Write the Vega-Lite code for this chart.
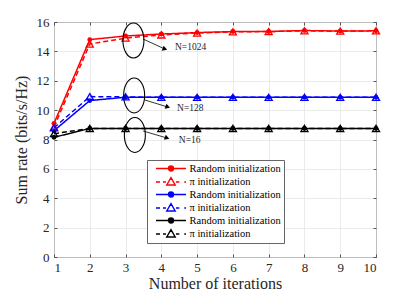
{
  "$schema": "https://vega.github.io/schema/vega-lite/v6.json",
  "width": 322,
  "height": 235,
  "autosize": {"type": "none"},
  "padding": {"left": 54, "top": 22, "right": 39, "bottom": 34},
  "background": "white",
  "datasets": {
    "rates": [
      {"it": 1, "v": 9.1, "s": "R1024"}, {"it": 2, "v": 14.8, "s": "R1024"}, {"it": 3, "v": 15.05, "s": "R1024"}, {"it": 4, "v": 15.18, "s": "R1024"}, {"it": 5, "v": 15.28, "s": "R1024"}, {"it": 6, "v": 15.35, "s": "R1024"}, {"it": 7, "v": 15.35, "s": "R1024"}, {"it": 8, "v": 15.42, "s": "R1024"}, {"it": 9, "v": 15.38, "s": "R1024"}, {"it": 10, "v": 15.4, "s": "R1024"},
      {"it": 1, "v": 8.85, "s": "P1024"}, {"it": 2, "v": 14.5, "s": "P1024"}, {"it": 3, "v": 14.9, "s": "P1024"}, {"it": 4, "v": 15.12, "s": "P1024"}, {"it": 5, "v": 15.25, "s": "P1024"}, {"it": 6, "v": 15.33, "s": "P1024"}, {"it": 7, "v": 15.35, "s": "P1024"}, {"it": 8, "v": 15.4, "s": "P1024"}, {"it": 9, "v": 15.38, "s": "P1024"}, {"it": 10, "v": 15.4, "s": "P1024"},
      {"it": 1, "v": 8.6, "s": "R128"}, {"it": 2, "v": 10.65, "s": "R128"}, {"it": 3, "v": 10.88, "s": "R128"}, {"it": 4, "v": 10.87, "s": "R128"}, {"it": 5, "v": 10.87, "s": "R128"}, {"it": 6, "v": 10.87, "s": "R128"}, {"it": 7, "v": 10.87, "s": "R128"}, {"it": 8, "v": 10.87, "s": "R128"}, {"it": 9, "v": 10.87, "s": "R128"}, {"it": 10, "v": 10.87, "s": "R128"},
      {"it": 1, "v": 8.8, "s": "P128"}, {"it": 2, "v": 10.92, "s": "P128"}, {"it": 3, "v": 10.9, "s": "P128"}, {"it": 4, "v": 10.87, "s": "P128"}, {"it": 5, "v": 10.87, "s": "P128"}, {"it": 6, "v": 10.87, "s": "P128"}, {"it": 7, "v": 10.87, "s": "P128"}, {"it": 8, "v": 10.87, "s": "P128"}, {"it": 9, "v": 10.87, "s": "P128"}, {"it": 10, "v": 10.87, "s": "P128"},
      {"it": 1, "v": 8.15, "s": "R16"}, {"it": 2, "v": 8.75, "s": "R16"}, {"it": 3, "v": 8.75, "s": "R16"}, {"it": 4, "v": 8.75, "s": "R16"}, {"it": 5, "v": 8.75, "s": "R16"}, {"it": 6, "v": 8.75, "s": "R16"}, {"it": 7, "v": 8.75, "s": "R16"}, {"it": 8, "v": 8.75, "s": "R16"}, {"it": 9, "v": 8.75, "s": "R16"}, {"it": 10, "v": 8.75, "s": "R16"},
      {"it": 1, "v": 8.4, "s": "P16"}, {"it": 2, "v": 8.75, "s": "P16"}, {"it": 3, "v": 8.75, "s": "P16"}, {"it": 4, "v": 8.75, "s": "P16"}, {"it": 5, "v": 8.75, "s": "P16"}, {"it": 6, "v": 8.75, "s": "P16"}, {"it": 7, "v": 8.75, "s": "P16"}, {"it": 8, "v": 8.75, "s": "P16"}, {"it": 9, "v": 8.75, "s": "P16"}, {"it": 10, "v": 8.75, "s": "P16"}
    ],
    "ellipses": [{"x": 3.22, "y": 14.74}, {"x": 3.24, "y": 11.0}, {"x": 3.26, "y": 8.31}],
    "arrows": [
      {"x1": 3.49, "y1": 14.84, "x2": 4.1, "y2": 14.16},
      {"x1": 3.54, "y1": 10.69, "x2": 4.18, "y2": 10.21},
      {"x1": 3.49, "y1": 8.58, "x2": 4.16, "y2": 8.1}
    ],
    "labels": [
      {"x": 4.38, "y": 14.3, "t": "N=1024"},
      {"x": 4.44, "y": 10.15, "t": "N=128"},
      {"x": 4.49, "y": 7.97, "t": "N=16"}
    ]
  },
  "resolve": {"axis": {"x": "independent", "y": "independent"}},
  "layer": [
    {
      "data": {"name": "rates"},
      "mark": {"type": "line", "strokeWidth": 1.5},
      "encoding": {
        "x": {"field": "it", "type": "quantitative", "scale": {"domain": [1, 10], "nice": false},
              "axis": {"orient": "bottom", "title": "Number of iterations", "values": [1,2,3,4,5,6,7,8,9,10], "ticks": false, "labelPadding": 4, "titlePadding": 1, "labelAngle": 0}},
        "y": {"field": "v", "type": "quantitative", "scale": {"domain": [0, 16], "nice": false},
              "axis": {"orient": "left", "title": "Sum rate (bits/s/Hz)", "values": [0,2,4,6,8,10,12,14,16], "ticks": false, "labelPadding": 5, "titlePadding": 7}},
        "color": {"field": "s", "type": "nominal", "legend": null,
                  "scale": {"domain": ["R1024","R128","R16","P1024","P128","P16"], "range": ["#ff0000","#0000ff","#000000","#ff0000","#0000ff","#000000"]}},
        "strokeDash": {"field": "s", "type": "nominal", "legend": null,
                  "scale": {"domain": ["P1024","P128","P16","R1024","R128","R16"], "range": [[5,3],[5,3],[5,3],[1,0],[1,0],[1,0]]}}
      }
    },
    {
      "data": {"name": "rates"},
      "transform": [{"filter": "indexof(datum.s, 'R') == 0"}],
      "mark": {"type": "point", "shape": "circle", "filled": true, "size": 24, "opacity": 1},
      "encoding": {
        "x": {"field": "it", "type": "quantitative", "axis": {"orient": "bottom", "offset": -3, "labels": false, "grid": false, "domain": false, "title": null, "tickSize": 3, "tickColor": "#555555", "values": [1,2,3,4,5,6,7,8,9,10]}},
        "y": {"field": "v", "type": "quantitative", "axis": {"orient": "left", "offset": -3, "labels": false, "grid": false, "domain": false, "title": null, "tickSize": 3, "tickColor": "#555555", "values": [0,2,4,6,8,10,12,14,16]}},
        "color": {"field": "s", "type": "nominal", "legend": null}
      }
    },
    {
      "data": {"name": "rates"},
      "transform": [{"filter": "indexof(datum.s, 'P') == 0"}],
      "mark": {"type": "point", "shape": "triangle-up", "filled": false, "size": 50, "strokeWidth": 1.3, "opacity": 1},
      "encoding": {
        "x": {"field": "it", "type": "quantitative", "axis": {"orient": "top", "offset": -3, "labels": false, "grid": false, "domain": false, "title": null, "tickSize": 3, "tickColor": "#555555", "values": [1,2,3,4,5,6,7,8,9,10]}},
        "y": {"field": "v", "type": "quantitative", "axis": {"orient": "right", "offset": -3, "labels": false, "grid": false, "domain": false, "title": null, "tickSize": 3, "tickColor": "#555555", "values": [0,2,4,6,8,10,12,14,16]}},
        "color": {"field": "s", "type": "nominal", "legend": null}
      }
    },
    {
      "data": {"name": "rates"},
      "mark": {"type": "point", "strokeWidth": 1.4, "opacity": 1, "size": 0},
      "encoding": {
        "x": {"field": "it", "type": "quantitative", "axis": null},
        "y": {"field": "v", "type": "quantitative", "axis": null},
        "stroke": {"field": "s", "type": "nominal",
                   "scale": {"domain": ["R1024","P1024","R128","P128","R16","P16"], "range": ["#ff0000","#ff0000","#0000ff","#0000ff","#000000","#000000"]},
                   "legend": {"title": null, "orient": "none", "legendX": 93, "legendY": 138, "padding": 3, "symbolSize": 81, "labelOffset": 28.5, "rowPadding": 0.5, "labelFont": "Liberation Serif", "labelFontSize": 10.5, "labelColor": "black", "fillColor": "white", "strokeColor": "#666666", "symbolStrokeWidth": 1.4, "labelExpr": "indexof(datum.value, 'R') == 0 ? 'Random initialization' : 'π initialization'"}},
        "fill": {"field": "s", "type": "nominal",
                 "scale": {"domain": ["R1024","P1024","R128","P128","R16","P16"], "range": ["#ff0000","#ffffff","#0000ff","#ffffff","#000000","#ffffff"]},
                 "legend": {"title": null, "orient": "none", "legendX": 93, "legendY": 138, "padding": 3, "symbolSize": 81, "labelOffset": 28.5, "rowPadding": 0.5, "labelFont": "Liberation Serif", "labelFontSize": 10.5, "labelColor": "black", "fillColor": "white", "strokeColor": "#666666", "symbolStrokeWidth": 1.4, "labelExpr": "indexof(datum.value, 'R') == 0 ? 'Random initialization' : 'π initialization'"}},
        "shape": {"field": "s", "type": "nominal",
                  "scale": {"domain": ["R1024","P1024","R128","P128","R16","P16"],
                            "range": [
                              "M0.11 0 L6.78 0 M3.44 -0.56 A0.56 0.56 0 1 1 3.44 0.56 A0.56 0.56 0 1 1 3.44 -0.56 Z",
                              "M0.11 0 L1.0 0 M1.67 0 L2.33 0 M4.55 0 L5.3 0 M6.4 0 L6.78 0 M3.44 -0.95 L4.38 0.67 L2.5 0.67 Z",
                              "M0.11 0 L6.78 0 M3.44 -0.56 A0.56 0.56 0 1 1 3.44 0.56 A0.56 0.56 0 1 1 3.44 -0.56 Z",
                              "M0.11 0 L1.0 0 M1.67 0 L2.33 0 M4.55 0 L5.3 0 M6.4 0 L6.78 0 M3.44 -0.95 L4.38 0.67 L2.5 0.67 Z",
                              "M0.11 0 L6.78 0 M3.44 -0.56 A0.56 0.56 0 1 1 3.44 0.56 A0.56 0.56 0 1 1 3.44 -0.56 Z",
                              "M0.11 0 L1.0 0 M1.67 0 L2.33 0 M4.55 0 L5.3 0 M6.4 0 L6.78 0 M3.44 -0.95 L4.38 0.67 L2.5 0.67 Z"
                            ]},
                  "legend": {"title": null, "orient": "none", "legendX": 93, "legendY": 138, "padding": 3, "symbolSize": 81, "labelOffset": 28.5, "rowPadding": 0.5, "labelFont": "Liberation Serif", "labelFontSize": 10.5, "labelColor": "black", "fillColor": "white", "strokeColor": "#666666", "symbolStrokeWidth": 1.4, "labelExpr": "indexof(datum.value, 'R') == 0 ? 'Random initialization' : 'π initialization'"}}
      }
    },
    {
      "data": {"name": "ellipses"},
      "mark": {"type": "point", "shape": "M -0.6 0 A 0.6 1 0 1 1 0.6 0 A 0.6 1 0 1 1 -0.6 0 Z", "size": 1225, "filled": false, "stroke": "black", "strokeWidth": 1.1, "opacity": 1},
      "encoding": {
        "x": {"field": "x", "type": "quantitative", "axis": null},
        "y": {"field": "y", "type": "quantitative", "axis": null}
      }
    },
    {
      "data": {"name": "arrows"},
      "mark": {"type": "rule", "stroke": "black", "strokeWidth": 0.8},
      "encoding": {
        "x": {"field": "x1", "type": "quantitative", "axis": null},
        "y": {"field": "y1", "type": "quantitative", "axis": null},
        "x2": {"field": "x2"},
        "y2": {"field": "y2"}
      }
    },
    {
      "data": {"name": "arrows"},
      "mark": {"type": "point", "shape": "triangle-right", "angle": 20, "filled": true, "color": "black", "size": 30, "opacity": 1},
      "encoding": {
        "x": {"field": "x2", "type": "quantitative", "axis": null},
        "y": {"field": "y2", "type": "quantitative", "axis": null}
      }
    },
    {
      "data": {"name": "labels"},
      "mark": {"type": "text", "align": "left", "baseline": "middle", "font": "Liberation Serif", "fontSize": 9.5, "color": "#262626"},
      "encoding": {
        "x": {"field": "x", "type": "quantitative", "axis": null},
        "y": {"field": "y", "type": "quantitative", "axis": null},
        "text": {"field": "t"}
      }
    }
  ],
  "config": {
    "view": {"stroke": "#262626", "strokeWidth": 1},
    "font": "Liberation Serif",
    "axis": {
      "domain": false,
      "grid": true,
      "gridColor": "#e6e6e6",
      "gridWidth": 0.8,
      "tickColor": "#262626",
      "labelFont": "Liberation Serif",
      "labelFontSize": 13,
      "labelColor": "#262626",
      "titleFont": "Liberation Serif",
      "titleFontSize": 16,
      "titleFontWeight": "normal",
      "titleColor": "#262626"
    }
  }
}
